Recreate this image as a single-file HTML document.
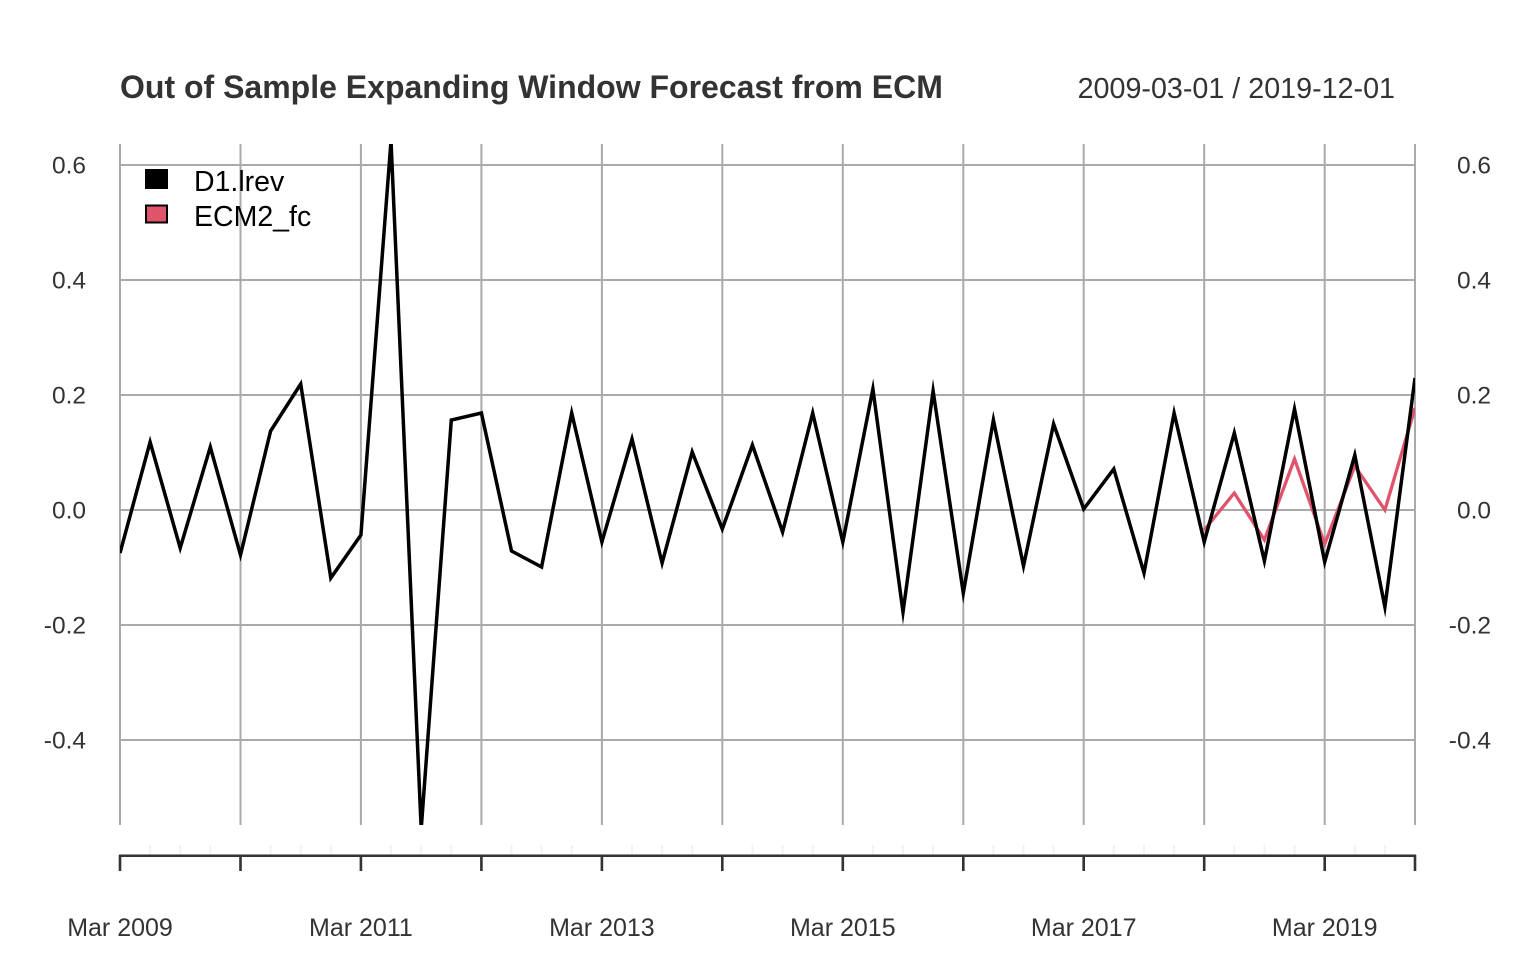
<!DOCTYPE html>
<html>
<head>
<meta charset="utf-8">
<style>
  html, body { margin:0; padding:0; background:#fff; }
  svg { display:block; }
  text { font-family: "Liberation Sans", Arial, sans-serif; }
</style>
</head>
<body>
<svg width="1536" height="960" viewBox="0 0 1536 960" xmlns="http://www.w3.org/2000/svg">
  <defs>
    <clipPath id="plot">
      <rect x="120" y="144" width="1295" height="681"/>
    </clipPath>
  </defs>

  <text x="120" y="98" font-size="32" font-weight="bold" fill="#333333">Out of Sample Expanding Window Forecast from ECM</text>
  <text x="1395" y="98" font-size="28.7" fill="#333333" text-anchor="end">2009-03-01 / 2019-12-01</text>

  <path stroke="#AAAAAA" stroke-width="2" fill="none" d="M120 165H1415M120 280H1415M120 395H1415M120 510H1415M120 625H1415M120 740H1415M120 144V825M240.5 144V825M360.9 144V825M481.4 144V825M601.9 144V825M722.3 144V825M842.8 144V825M963.3 144V825M1083.7 144V825M1204.2 144V825M1324.7 144V825M1415 144V825"/>

  <g font-size="24.5" fill="#333333" text-anchor="end">
    <text x="86" y="173.5">0.6</text>
    <text x="86" y="288.5">0.4</text>
    <text x="86" y="403.5">0.2</text>
    <text x="86" y="518.5">0.0</text>
    <text x="86" y="633.5">-0.2</text>
    <text x="86" y="748.5">-0.4</text>
    <text x="1491" y="173.5">0.6</text>
    <text x="1491" y="288.5">0.4</text>
    <text x="1491" y="403.5">0.2</text>
    <text x="1491" y="518.5">0.0</text>
    <text x="1491" y="633.5">-0.2</text>
    <text x="1491" y="748.5">-0.4</text>
  </g>

  <g clip-path="url(#plot)" fill="none" stroke-linejoin="miter" stroke-miterlimit="10">
    <polyline stroke="#DF536B" stroke-width="3.3" points="1204.2,530 1234.3,493 1264.4,540 1294.5,459 1324.7,544 1354.8,466 1384.9,510 1415,408"/>
    <polyline stroke="#000000" stroke-width="3.5" points="120,553 150.1,442 180.2,548 210.3,447 240.5,555 270.6,431 300.7,384 330.8,578 360.9,535 391,141 421.2,829 451.3,420 481.4,413 511.5,551 541.6,567 571.7,413 601.9,542 632,439 662.1,563 692.2,452 722.3,529 752.4,445 782.6,532 812.7,413 842.8,542 872.9,389 903,612 933.1,391 963.3,593 993.4,420 1023.5,566 1053.6,424 1083.7,509 1113.8,469 1144,573 1174.1,413 1204.2,542 1234.3,433 1264.4,561 1294.5,409 1324.7,562 1354.8,455 1384.9,607 1415,378"/>
  </g>

  <rect x="146" y="170" width="21" height="18" fill="#000000" stroke="#000000" stroke-width="2"/>
  <rect x="146" y="205.5" width="21" height="17" fill="#DF536B" stroke="#000000" stroke-width="2"/>
  <text x="194" y="191" font-size="28.5" fill="#000000">D1.lrev</text>
  <text x="194" y="226" font-size="28.5" fill="#000000">ECM2_fc</text>

  <path stroke="#F2F2F2" stroke-width="2" fill="none" d="M150.1 845V855M180.2 845V855M210.3 845V855M270.6 845V855M300.7 845V855M330.8 845V855M391 845V855M421.2 845V855M451.3 845V855M511.5 845V855M541.6 845V855M571.7 845V855M632 845V855M662.1 845V855M692.2 845V855M752.4 845V855M782.6 845V855M812.7 845V855M872.9 845V855M903 845V855M933.1 845V855M993.4 845V855M1023.5 845V855M1053.6 845V855M1113.8 845V855M1144 845V855M1174.1 845V855M1234.3 845V855M1264.4 845V855M1294.5 845V855M1354.8 845V855M1384.9 845V855"/>
  <line x1="119" y1="855.7" x2="1416" y2="855.7" stroke="#333333" stroke-width="2.5"/>
  <path stroke="#333333" stroke-width="2.6" fill="none" d="M120 855V871M240.5 855V871M360.9 855V871M481.4 855V871M601.9 855V871M722.3 855V871M842.8 855V871M963.3 855V871M1083.7 855V871M1204.2 855V871M1324.7 855V871M1415 855V871"/>

  <g font-size="25" fill="#333333" text-anchor="middle">
    <text x="120" y="936">Mar 2009</text>
    <text x="360.9" y="936">Mar 2011</text>
    <text x="601.9" y="936">Mar 2013</text>
    <text x="842.8" y="936">Mar 2015</text>
    <text x="1083.7" y="936">Mar 2017</text>
    <text x="1324.7" y="936">Mar 2019</text>
  </g>
</svg>
</body>
</html>
